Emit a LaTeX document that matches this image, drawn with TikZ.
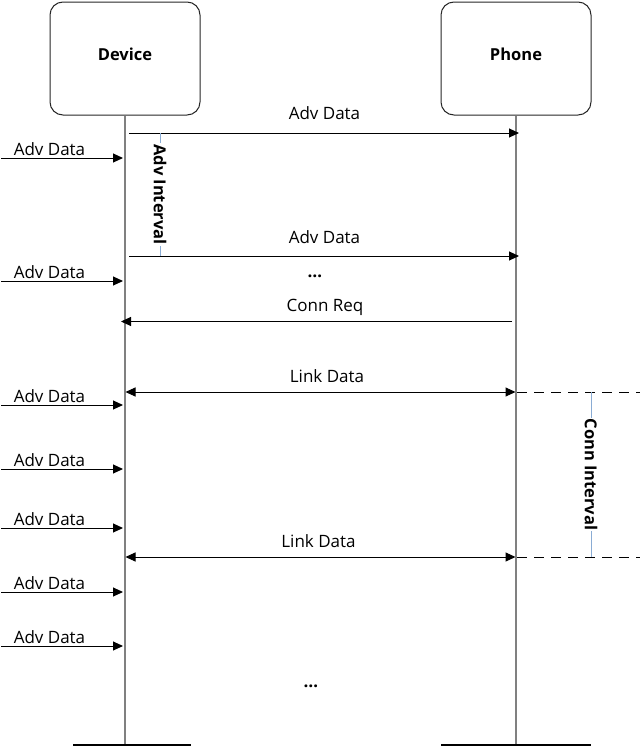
\documentclass[tikz,border=0pt]{standalone}
\usepackage{fontspec}
\setmainfont{Open Sans}
\usetikzlibrary{arrows.meta}
\definecolor{lifegray}{HTML}{808080}
\definecolor{intblue}{HTML}{8AACD4}
\begin{document}
\begin{tikzpicture}[x=1pt,y=-1pt,
  lifebox/.style={draw=black!85, rounded corners=13pt, minimum width=150pt, minimum height=113pt, line width=1pt, inner sep=0pt},
  title/.style={font=\bfseries\fontsize{16.5}{18}\selectfont, anchor=base, inner sep=0pt},
  life/.style={draw=lifegray, line width=1.3pt},
  bar/.style={draw=black, line width=1.3pt},
  tip/.style={-{Triangle[length=10pt,width=9pt]}},
  msg/.style={draw=black, line width=1pt, tip},
  dmsg/.style={draw=black, line width=1pt, {Triangle[length=10pt,width=9pt]}-{Triangle[length=10pt,width=9pt]}},
  lbl/.style={font=\fontsize{17}{19}\selectfont, anchor=base, inner sep=0pt},
  dotslbl/.style={font=\bfseries\fontsize{17}{19}\selectfont, anchor=base, inner sep=0pt},
  interval/.style={draw=intblue, line width=1pt},
  ilbl/.style={font=\bfseries\fontsize{16.5}{18}\selectfont, fill=white, inner sep=1pt, rotate=-90},
  dashline/.style={draw=black, line width=1pt, dash pattern=on 10pt off 7pt}
]
\useasboundingbox (0,0) rectangle (640,747);

% lifeline heads
\node[lifebox] (dev) at (125,58.5) {};
\node[lifebox] (pho) at (516,58.5) {};
\node[title] (devt) at (125,60) {Device};
\node[title] (phot) at (516,60) {Phone};

% lifelines
\coordinate (devend) at (125,745);
\coordinate (phoend) at (516,745);
\draw[life] (dev.south) -- (devend);
\draw[life] (pho.south) -- (phoend);
\coordinate (db1) at (73,745);
\coordinate (db2) at (191,745);
\coordinate (pb1) at (441,745);
\coordinate (pb2) at (591,745);
\draw[bar] (db1) -- (db2);
\draw[bar] (pb1) -- (pb2);

% advertising to phone
\coordinate (a1s) at (129,133);
\coordinate (a1e) at (519,133);
\draw[msg] (a1s) -- (a1e);
\node[lbl] (a1l) at (324.5,119) {Adv Data};
\coordinate (a2s) at (129,256);
\coordinate (a2e) at (519,256);
\draw[msg] (a2s) -- (a2e);
\node[lbl] (a2l) at (324.5,243) {Adv Data};
\node[dotslbl] (dots1) at (315,277) {…};

% adv interval
\coordinate (ai1) at (160,133);
\coordinate (ai2) at (160,256);
\draw[interval] (ai1) -- (ai2) node[ilbl, midway] (ail) {Adv Interval};

% conn req
\coordinate (crs) at (512,321.5);
\coordinate (cre) at (121,321.5);
\draw[msg] (crs) -- (cre);
\node[lbl] (crl) at (325,311.5) {Conn Req};

% link data
\coordinate (l1s) at (125.5,392);
\coordinate (l1e) at (515.5,392);
\draw[dmsg] (l1s) -- (l1e);
\node[lbl] (l1l) at (327,382) {Link Data};
\coordinate (l2s) at (125.5,557);
\coordinate (l2e) at (515.5,557);
\draw[dmsg] (l2s) -- (l2e);
\node[lbl] (l2l) at (318.5,547) {Link Data};

% dashed extension
\coordinate (d1s) at (517,392);
\coordinate (d1e) at (640,392);
\coordinate (d2s) at (517,557);
\coordinate (d2e) at (640,557);
\draw[dashline] (d1s) -- (d1e);
\draw[dashline] (d2s) -- (d2e);

% conn interval
\coordinate (ci1) at (591,392);
\coordinate (ci2) at (591,557);
\draw[interval] (ci1) -- (ci2) node[ilbl, midway] (cil) {Conn Interval};

% incoming adv data on device
\foreach \i/\y in {1/158,2/281,3/405,4/469,5/528,6/592,7/646} {
  \coordinate (in\i s) at (1,\y);
  \coordinate (in\i e) at (123,\y);
  \draw[msg] (in\i s) -- (in\i e);
  \node[lbl] (in\i l) at (49.5,\y-2.5) {Adv Data};
}

\node[dotslbl] (dots2) at (311,687) {…};
\end{tikzpicture}
\end{document}
